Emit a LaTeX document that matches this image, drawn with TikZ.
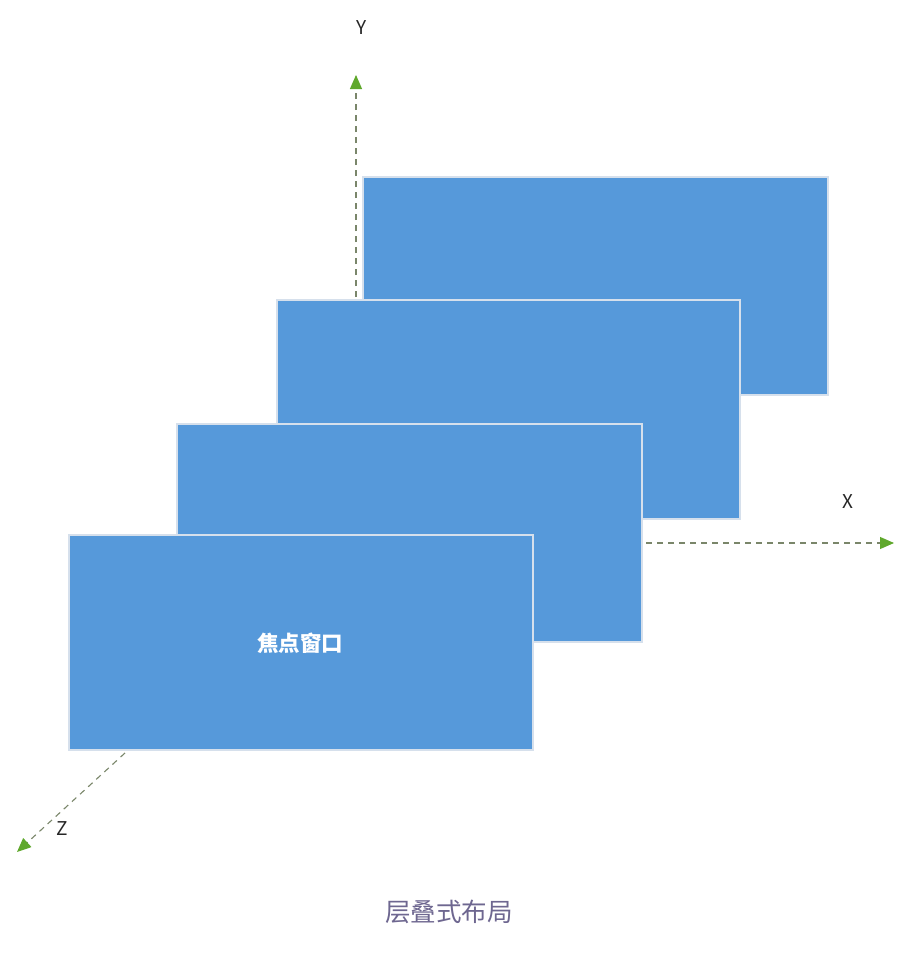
\documentclass[tikz,border=0pt]{standalone}
\usepackage{fontspec}
\newfontfamily\cjk{Noto Sans CJK SC}
\usetikzlibrary{arrows.meta}
\definecolor{panelblue}{HTML}{5699DA}
\definecolor{paneledge}{HTML}{D6E0EC}
\definecolor{axisgray}{HTML}{7A866A}
\definecolor{tipgreen}{HTML}{5FA82C}
\definecolor{captioncol}{HTML}{6E6790}
\begin{document}
\begin{tikzpicture}[x=1pt,y=-1pt,
  panel/.style={draw=paneledge,line width=1.2pt,fill=panelblue},
  axisline/.style={draw=axisgray,dash pattern=on 6pt off 5pt,line width=1.1pt,
    -{Triangle[length=14pt,width=12pt,color=tipgreen,fill=tipgreen]}},
  axislabel/.style={font=\cjk\fontsize{19}{22}\selectfont,text=black!85}]
\fill[white] (0,0) rectangle (922,956);
\useasboundingbox (0,0) rectangle (922,956);
% panels
\draw[panel] (363,177) rectangle (828,395);
\draw[panel] (277,300) rectangle (740,519);
\draw[panel] (177,424) rectangle (642,642);
\draw[panel] (69,535) rectangle (533,750);
% axes
\coordinate (ys) at (356,297);
\coordinate (ye) at (356,75);
\coordinate (xs) at (646,543);
\coordinate (xe) at (894,543);
\coordinate (zs) at (125,753);
\coordinate (ze) at (17,852);
\draw[axisline] (ys) -- (ye);
\draw[axisline] (xs) -- (xe);
\draw[axisline] (zs) -- (ze);
\node[axislabel] (ylab) at (362,28) {Y};
\node[axislabel] (xlab) at (848,502) {X};
\node[axislabel] (zlab) at (62,829) {Z};
\node[font=\cjk\bfseries\fontsize{21.5}{24}\selectfont,text=white] (focus) at (300,643) {焦点窗口};
\node[font=\cjk\fontsize{25.5}{28}\selectfont,text=captioncol] (cap) at (449,912) {层叠式布局};
\end{tikzpicture}
\end{document}
